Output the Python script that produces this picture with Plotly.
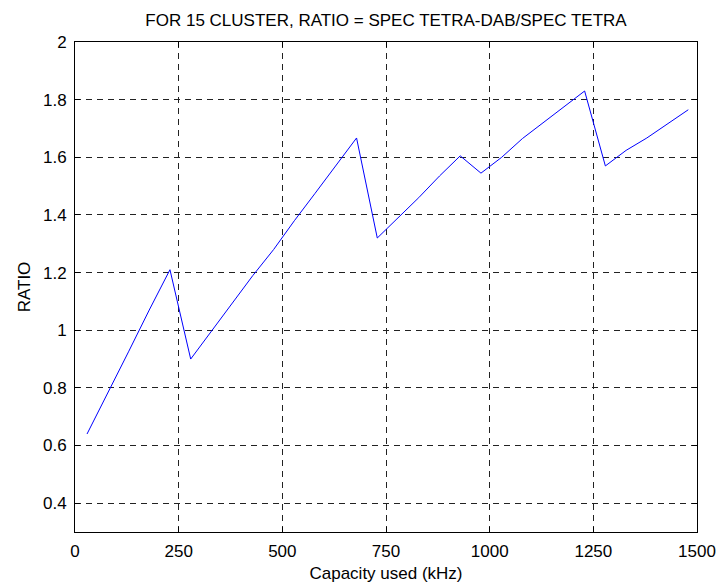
import plotly.graph_objects as go

capacity_khz = [29, 79, 129, 179, 229, 279, 329, 379, 429, 479, 529, 579, 629, 679,
                729, 779, 829, 879, 929, 979, 1029, 1079, 1129, 1179, 1229,
                1279, 1329, 1379, 1429, 1479]
ratio = [0.64, 0.78, 0.925, 1.07, 1.21, 0.90, 0.996, 1.09, 1.19, 1.28, 1.38, 1.475,
         1.57, 1.667, 1.32, 1.39, 1.46, 1.535, 1.605, 1.545, 1.60, 1.665, 1.72,
         1.775, 1.83, 1.57, 1.624, 1.667, 1.715, 1.765]

x_ticks = [0, 250, 500, 750, 1000, 1250, 1500]
y_ticks = [0.4, 0.6, 0.8, 1.0, 1.2, 1.4, 1.6, 1.8, 2.0]
y_tick_labels = ["0.4", "0.6", "0.8", "1", "1.2", "1.4", "1.6", "1.8", "2"]

title_text = "FOR 15 CLUSTER, RATIO = SPEC TETRA-DAB/SPEC TETRA"
x_title = "Capacity used (kHz)"
y_title = "RATIO"

font_family = "Liberation Sans, Arial, sans-serif"
fs = 17

fig = go.Figure()
fig.add_trace(go.Scatter(x=capacity_khz, y=ratio, mode="lines",
                         line=dict(color="#0000FF", width=1), showlegend=False))

axis_common = dict(
    showline=True, linecolor="black", linewidth=1, mirror="allticks",
    ticks="inside", ticklen=5, tickcolor="black",
    showgrid=True, gridcolor="#222222", gridwidth=1, griddash="6px,5px",
    zeroline=False, automargin=False,
    tickfont=dict(family=font_family, size=fs, color="black"),
)

fig.update_layout(
    width=720, height=587,
    margin=dict(l=75, r=23, t=42, b=55),
    paper_bgcolor="white", plot_bgcolor="white",
    font=dict(family=font_family, size=fs, color="black"),
    title=dict(text=title_text, x=0.5, xref="paper", xanchor="center",
               y=1 - 20 / 587, yref="container", yanchor="middle",
               font=dict(family=font_family, size=fs, color="black")),
    xaxis=dict(range=[0, 1500], tickvals=x_ticks, ticktext=[str(v) for v in x_ticks],
               ticklabelstandoff=4,
               title=dict(text=x_title, standoff=6,
                          font=dict(family=font_family, size=fs)),
               **axis_common),
    yaxis=dict(range=[0.3, 2.0], tickvals=y_ticks, ticktext=y_tick_labels,
               ticklabelstandoff=4,
               title=dict(text=y_title, standoff=8,
                          font=dict(family=font_family, size=fs)),
               **axis_common),
)

fig.write_html("out.html",
               config={"displayModeBar": False},
               post_script="document.body.style.margin='0';"
                           "document.body.style.overflow='hidden';")
